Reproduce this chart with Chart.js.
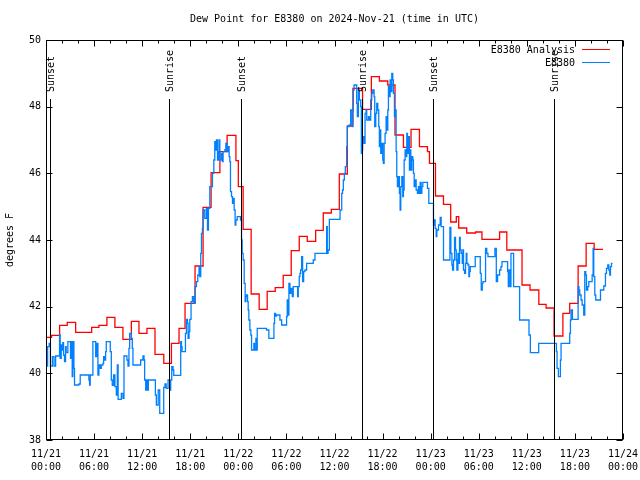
<!DOCTYPE html>
<html>
<head>
<meta charset="utf-8">
<script src="https://cdn.jsdelivr.net/npm/chart.js@4/dist/chart.umd.min.js"></script>
<style>
html,body{margin:0;padding:0;background:#fff;}
canvas{display:block;}
</style>
</head>
<body>
<canvas id="c" width="640" height="480"></canvas>
<script>
// ---- data (hours since 2024-11-21 00:00 UTC) ----
const chartTitle = 'Dew Point for E8380 on 2024-Nov-21 (time in UTC)';
const yTitle = 'degrees F';
const seriesNames = ['E8380 Analysis', 'E8380'];
const tickDates = ['11/21','11/21','11/21','11/21','11/22','11/22','11/22','11/22','11/23','11/23','11/23','11/23','11/24'];
const tickTimes = ['00:00','06:00','12:00','18:00','00:00','06:00','12:00','18:00','00:00','06:00','12:00','18:00','00:00'];
const sunTimes = [0.45, 15.35, 24.35, 39.4, 48.35, 63.35];
const sunLabels = ['Sunset','Sunrise','Sunset','Sunrise','Sunset','Sunrise'];

const analysisHours = [0,0.7,1.7,2.65,3.7,5.7,6.6,7.6,8.6,9.6,10.65,11.6,12.6,13.6,14.7,15.65,16.6,17.35,18.6,19.6,20.6,21.7,22.6,23.7,24.0,24.6,25.6,26.6,27.6,28.6,29.6,30.6,31.6,32.6,33.65,34.6,35.6,36.6,37.6,38.3,39.5,40.6,41.6,42.65,43.55,44.6,45.55,46.6,47.6,47.85,48.6,49.6,50.5,51.2,51.5,52.5,53.6,54.4,56.6,57.5,59.4,60.4,61.5,62.4,63.4,64.5,65.35,66.4,67.4,68.4,69.5];
const analysisValues = [41.08,41.14,41.44,41.53,41.23,41.38,41.44,41.68,41.38,41.02,41.56,41.2,41.35,40.57,40.3,40.9,41.35,42.1,43.22,44.98,46.02,46.65,47.14,46.38,45.6,44.32,42.38,41.92,42.46,42.57,42.94,43.68,44.11,43.96,44.29,44.81,44.92,45.98,47.42,48.55,47.92,48.9,48.77,48.65,47.15,46.78,47.32,46.8,46.65,46.3,45.32,45.07,44.54,44.7,44.36,44.21,44.24,44.02,44.24,43.7,42.65,42.5,42.07,41.96,41.12,41.8,42.1,43.22,43.9,43.72,43.72];

const obsHours = [0,0.2,0.4,0.55,0.8,1.0,1.2,1.69,1.77,1.9,2.02,2.1,2.19,2.31,2.44,2.52,2.73,3.06,3.15,3.27,3.35,3.48,3.56,4.1,4.27,5.35,5.44,5.52,5.85,6.2,6.35,6.48,6.6,6.77,6.9,7.1,7.19,7.3,7.44,7.52,8.02,8.15,8.27,8.44,8.6,8.77,8.9,9.0,9.4,9.6,9.73,10.1,10.23,10.35,10.44,10.65,10.77,10.85,11.81,12.1,12.23,12.31,12.44,12.56,12.69,12.77,13.65,13.77,14.0,14.19,14.69,14.85,15.0,15.23,15.44,15.56,15.69,15.85,15.94,16.81,16.9,16.98,17.4,17.52,17.65,17.73,17.85,17.94,18.1,18.27,18.44,18.6,18.77,18.94,19.1,19.19,19.31,19.4,19.52,19.6,19.81,20.02,20.15,20.27,20.44,20.77,20.94,21.06,21.19,21.27,21.4,21.52,21.6,21.69,21.9,22.02,22.1,22.31,22.44,22.6,22.73,22.85,22.94,23.02,23.15,23.27,23.35,23.48,23.6,23.69,23.86,24.27,24.4,24.48,24.6,24.73,24.85,24.94,25.02,25.15,25.23,25.31,25.44,25.56,25.65,25.94,26.02,26.19,26.27,26.36,27.52,27.81,28.44,28.52,28.65,28.77,29.19,29.4,30.02,30.1,30.2,30.31,30.44,30.56,30.73,30.85,31.4,31.48,31.6,31.69,31.77,31.9,32.02,32.15,32.31,32.52,33.35,33.56,35.02,35.1,35.2,35.36,36.69,36.9,37.0,37.1,37.23,37.35,37.52,37.6,37.85,38.02,38.19,38.27,38.35,38.44,38.77,38.85,38.98,39.1,39.27,39.35,39.44,39.52,39.6,39.69,39.81,39.94,40.02,40.23,40.35,40.52,40.65,40.77,40.94,41.02,41.15,41.27,41.4,41.52,41.6,41.69,41.77,41.9,42.02,42.1,42.19,42.31,42.44,42.52,42.65,42.73,42.85,42.94,43.06,43.15,43.27,43.35,43.48,43.56,43.69,43.77,43.85,43.98,44.1,44.19,44.27,44.4,44.52,44.6,44.69,44.81,44.94,45.02,45.1,45.23,45.35,45.44,45.52,45.65,45.77,45.85,45.94,46.06,46.19,46.35,46.48,46.6,46.69,46.81,46.9,47.02,47.6,47.77,48.35,48.44,48.56,48.69,48.77,48.98,49.19,49.31,49.6,50.4,50.52,50.65,50.73,50.85,50.98,51.1,51.19,51.27,51.4,51.52,51.6,51.69,51.81,51.94,52.02,52.1,52.23,52.35,52.44,52.52,52.65,52.77,52.85,52.94,53.56,54.19,54.31,54.44,54.52,54.85,55.0,55.15,56.02,56.19,56.35,56.6,56.77,56.9,57.6,57.69,57.77,57.94,58.02,58.35,59.1,60.27,60.44,61.48,63.69,63.77,63.94,64.19,64.27,65.35,65.44,65.52,65.69,66.4,66.5,66.6,66.77,66.9,67.1,67.23,67.35,67.44,67.6,67.73,68.15,68.27,68.35,68.48,68.6,69.19,69.6,69.81,69.94,70.1,70.23,70.35,70.44,70.56,70.69];
const obsValues = [40.22,40.8,40.9,40.22,40.5,40.22,40.52,41.15,40.45,40.85,40.7,40.92,40.55,40.35,40.8,40.62,40.95,40.45,40.95,39.9,40.95,40.15,39.65,39.68,39.95,39.8,39.65,39.95,40.95,40.5,40.9,39.95,40.25,40.15,40.25,40.3,40.5,40.4,40.65,40.95,40.65,39.8,39.64,39.95,39.6,39.35,40.25,39.22,39.4,39.25,40.52,40.4,40.22,40.75,41.2,41.05,40.75,40.25,40.4,40.52,40.4,39.8,39.5,39.8,39.5,39.8,39.35,39.05,39.5,38.8,39.58,39.68,39.55,39.8,39.5,39.8,40.2,40.1,39.94,40.95,40.8,40.65,41.2,41.62,41.5,41.05,41.25,41.62,42.15,42.3,42.1,42.6,42.75,42.95,43.2,42.9,43.6,44.2,44.35,44.9,44.65,44.95,44.3,44.95,45.6,46.0,46.4,46.95,46.7,47.0,46.4,46.65,47.0,46.4,46.6,46.35,46.65,46.7,46.9,46.65,46.8,46.5,46.35,45.45,45.3,45.1,45.25,44.9,44.45,44.6,44.7,44.6,44.0,43.6,43.4,42.7,42.15,42.3,42.35,42.15,41.9,41.6,41.3,41.15,40.7,40.9,40.7,41.05,40.7,41.35,41.3,41.05,41.5,41.8,41.72,41.75,41.6,41.45,41.7,42.2,41.75,42.7,42.4,42.55,42.3,42.6,42.3,42.6,42.9,43.0,43.1,43.5,42.75,43.05,43.1,43.3,43.4,43.6,44.4,43.6,43.7,44.62,44.9,45.4,45.5,45.8,46.0,46.2,46.8,47.4,47.45,47.9,47.4,47.9,48.5,48.65,48.1,47.7,48.5,48.2,48.0,46.6,46.7,47.0,47.1,46.9,47.8,47.9,47.6,47.7,47.6,48.2,48.4,48.5,48.3,47.4,47.8,48.1,47.9,47.4,46.8,47.3,46.6,46.9,46.4,46.3,46.9,47.2,47.7,47.3,47.9,48.6,48.3,48.8,48.45,49.0,48.8,48.4,47.7,47.9,46.65,45.9,45.6,45.9,45.4,44.9,45.6,45.9,45.3,45.5,46.4,46.7,46.5,47.2,46.6,47.1,46.1,46.7,46.1,46.5,46.4,46.0,45.6,45.8,45.5,45.4,45.6,45.4,45.73,45.4,45.6,45.73,45.55,45.1,44.45,44.6,44.35,44.1,44.3,44.45,44.68,44.4,43.4,44.38,43.6,43.25,43.1,43.4,44.08,43.7,43.4,43.1,43.6,43.3,44.08,43.7,43.6,43.3,43.7,43.1,43.0,43.3,43.6,43.3,43.25,42.9,43.05,43.2,43.5,43.0,42.5,42.7,42.75,43.75,43.6,43.5,43.75,42.75,42.95,43.1,43.2,43.35,43.05,42.6,43.1,42.6,43.6,42.6,41.6,41.15,40.62,40.9,40.65,40.15,39.9,40.4,40.9,41.2,41.6,41.9,41.62,42.6,42.5,42.35,42.2,42.05,41.75,43.05,42.95,42.5,42.6,42.75,42.95,43.75,42.9,42.35,42.2,42.5,42.62,43.0,43.15,43.25,43.1,42.95,43.2,43.3,43.3];

const FONT = '"DejaVu Sans Mono", "Liberation Mono", monospace';

const analysisData = analysisHours.map((h, i) => ({x: h, y: analysisValues[i]}));
const obsData = obsHours.map((h, i) => ({x: h, y: obsValues[i]}));

const decorPlugin = {
  id: 'decor',
  afterDatasetsDraw(chart) {
    const ctx = chart.ctx;
    const a = chart.chartArea;
    const xs = chart.scales.x, ys = chart.scales.y;
    const L = Math.round(a.left) + 0.5, R = Math.round(a.right) - 0.5;
    const T = Math.round(a.top) + 0.5, B = Math.round(a.bottom) - 0.5;
    ctx.save();
    ctx.font = '10px ' + FONT;
    ctx.fillStyle = '#000';
    ctx.strokeStyle = '#000';
    ctx.lineWidth = 1;
    // title centred over plot
    ctx.textAlign = 'center';
    ctx.textBaseline = 'middle';
    ctx.fillText(chartTitle, (a.left + a.right) / 2, 19);
    // sunrise / sunset markers
    sunTimes.forEach((t, i) => {
      const x = Math.round(xs.getPixelForValue(t)) + 0.5;
      ctx.beginPath();
      ctx.moveTo(x, 99);
      ctx.lineTo(x, B);
      ctx.stroke();
      ctx.save();
      ctx.translate(x + 1, 92);
      ctx.rotate(-Math.PI / 2);
      ctx.textAlign = 'left';
      ctx.textBaseline = 'middle';
      ctx.fillText(sunLabels[i], 0, 0);
      ctx.restore();
    });
    // frame
    ctx.strokeRect(L, T, R - L, B - T);
    // ticks (inward, mirrored)
    ctx.beginPath();
    for (let v = 38; v <= 50; v += 2) {
      const y = Math.round(ys.getPixelForValue(v)) + 0.5;
      ctx.moveTo(L, y); ctx.lineTo(L + 6, y);
      ctx.moveTo(R, y); ctx.lineTo(R - 6, y);
    }
    for (let h = 0; h <= 72; h += 2) {
      const x = Math.round(xs.getPixelForValue(h)) + 0.5;
      const len = (h % 6 === 0) ? 6 : 3;
      ctx.moveTo(x, B); ctx.lineTo(x, B - len);
      ctx.moveTo(x, T); ctx.lineTo(x, T + len);
    }
    ctx.stroke();
    // legend
    const colors = chart.data.datasets.map(d => d.borderColor);
    ctx.textAlign = 'right';
    ctx.textBaseline = 'middle';
    seriesNames.forEach((name, i) => {
      const y = 50 + i * 13;
      ctx.fillStyle = '#000';
      ctx.fillText(name, 575, y);
      ctx.strokeStyle = colors[i];
      ctx.beginPath();
      ctx.moveTo(582, y - 0.5);
      ctx.lineTo(610, y - 0.5);
      ctx.stroke();
    });
    ctx.restore();
  }
};

new Chart(document.getElementById('c'), {
  type: 'line',
  data: {
    datasets: [
      {label: seriesNames[0], data: analysisData, borderColor: '#ff0000', borderWidth: 1.3, stepped: true, pointRadius: 0, fill: false, order: 2},
      {label: seriesNames[1], data: obsData, borderColor: '#0080ff', borderWidth: 1.3, stepped: true, pointRadius: 0, fill: false, order: 1}
    ]
  },
  options: {
    responsive: false,
    animation: false,
    devicePixelRatio: 1,
    layout: {padding: {left: 0, right: 17, top: 40, bottom: 0}},
    plugins: {legend: {display: false}, title: {display: false}, tooltip: {enabled: false}},
    scales: {
      x: {
        type: 'linear', min: 0, max: 72,
        grid: {display: false, drawTicks: false},
        border: {display: false},
        ticks: {
          stepSize: 6, autoSkip: false, maxRotation: 0, minRotation: 0, padding: 8,
          color: '#000', font: {family: FONT, size: 10, lineHeight: 1.3},
          callback: (v) => { const i = Math.round(v / 6); return [tickDates[i], tickTimes[i]]; }
        },
        afterFit: (s) => { s.height = 40; s.paddingLeft = 0; s.paddingRight = 0; }
      },
      y: {
        min: 38, max: 50,
        grid: {display: false, drawTicks: false},
        border: {display: false},
        ticks: {stepSize: 2, padding: 5, color: '#000', font: {family: FONT, size: 10}},
        title: {display: true, text: yTitle, color: '#000', font: {family: FONT, size: 10}, padding: {top: 4, bottom: 0}},
        afterFit: (s) => { s.width = 46; s.paddingTop = 0; s.paddingBottom = 0; }
      }
    }
  },
  plugins: [decorPlugin]
});
</script>
</body>
</html>
